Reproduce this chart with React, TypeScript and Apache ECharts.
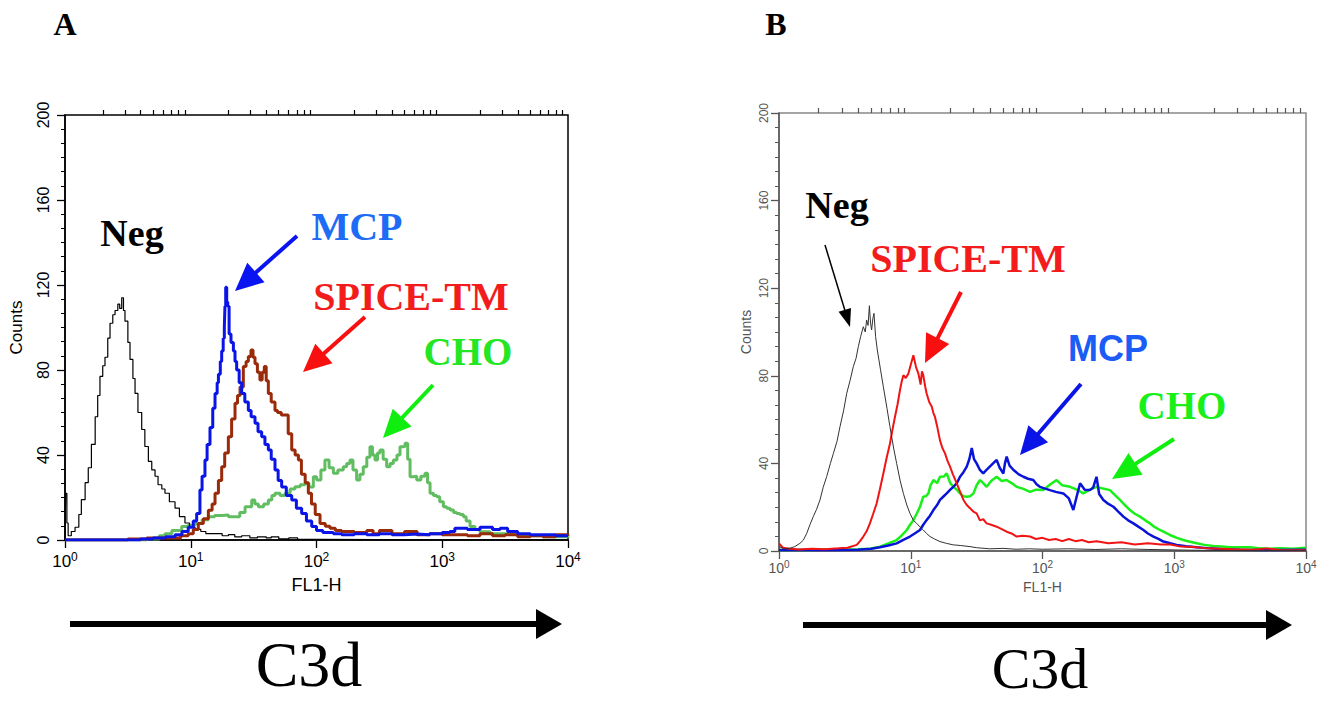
import React, { useEffect, useRef } from 'react';
import * as echarts from 'echarts';

// ---------- tick values ----------
const decadeTicks = [1, 10, 100, 1000, 10000];
const minorTicks = [
  2, 3, 4, 5, 6, 7, 8, 9,
  20, 30, 40, 50, 60, 70, 80, 90,
  200, 300, 400, 500, 600, 700, 800, 900,
  2000, 3000, 4000, 5000, 6000, 7000, 8000, 9000,
];
const countMax = 200;
const countStep = 40;

// ---------- data: [log10(FL1-H), Counts] ----------
// Panel A
const negA = [[0,0],[0.005,22],[0.015,8],[0.025,2],[0.05,4],[0.08,6],[0.11,12],[0.13,19],[0.16,27],[0.185,34],[0.21,45],[0.24,58],[0.26,68],[0.278,77],[0.3,82],[0.318,86],[0.34,95],[0.358,102],[0.38,106],[0.398,108],[0.42,111],[0.435,109],[0.451,114],[0.465,108],[0.477,103],[0.5,93],[0.517,85],[0.54,76],[0.557,69],[0.58,60],[0.61,52],[0.635,44],[0.663,37],[0.69,33],[0.716,30],[0.74,26],[0.77,24],[0.795,22],[0.83,18],[0.875,15],[0.91,11],[0.954,8],[0.99,6],[1.034,5],[1.08,4],[1.12,3],[1.19,3],[1.25,2],[1.3,2.5],[1.35,1.5],[1.405,2],[1.47,1],[1.53,1.5],[1.6,1],[1.64,1.5],[1.7,0.5],[1.78,1],[1.85,0.3],[2.0,0.2],[2.5,0],[3,0],[4,0]];
const mcpA = [[0,0],[0.4,0],[0.6,0.5],[0.7,1],[0.8,1.5],[0.875,2.5],[0.93,4],[0.98,6],[1.02,9],[1.047,12.5],[1.073,23.5],[1.09,30],[1.113,37.6],[1.13,45],[1.153,53],[1.175,62],[1.193,69],[1.21,74],[1.22,78],[1.235,84],[1.246,89],[1.258,95],[1.267,100],[1.272,110],[1.278,119],[1.286,112],[1.294,110],[1.305,97],[1.32,93],[1.339,89],[1.352,84],[1.365,80],[1.385,74],[1.405,69],[1.43,65],[1.458,61],[1.48,58],[1.511,55],[1.535,51],[1.564,48.6],[1.59,45],[1.617,42.4],[1.64,38],[1.67,33],[1.695,28],[1.723,25],[1.76,21],[1.803,18.8],[1.84,15],[1.882,12.5],[1.92,9],[1.962,6.3],[2.0,4.5],[2.05,3.5],[2.134,3],[2.2,2.5],[2.3,3],[2.4,2.5],[2.5,3],[2.6,2.5],[2.7,2.8],[2.8,2.5],[2.9,3],[3.0,3.5],[3.06,4],[3.1,5.5],[3.2,5],[3.3,6],[3.4,5],[3.46,5.5],[3.52,4],[3.6,3],[3.7,2.5],[3.8,2.5],[3.9,2],[4.0,2]];
const spiceA = [[0,0],[0.5,0.5],[0.65,1],[0.8,1],[0.92,2],[0.98,3],[1.02,5],[1.06,7.8],[1.1,10],[1.14,14],[1.17,17],[1.193,22],[1.22,28],[1.246,34.5],[1.27,41],[1.299,48.6],[1.325,57],[1.352,64.3],[1.372,68],[1.392,72],[1.418,81.6],[1.44,84],[1.458,86.3],[1.479,89.4],[1.495,86],[1.511,83],[1.53,79],[1.55,75.3],[1.568,79],[1.585,81.6],[1.6,75],[1.617,69],[1.64,65],[1.67,61],[1.69,60],[1.72,58.8],[1.75,58.8],[1.775,50],[1.803,42.4],[1.83,40],[1.856,37.6],[1.88,31],[1.91,27],[1.935,22],[1.96,17],[1.99,12],[2.028,7.8],[2.07,6.5],[2.107,5.5],[2.15,4.5],[2.2,4],[2.3,3.5],[2.4,4.5],[2.45,3],[2.5,4.5],[2.6,3],[2.7,4],[2.8,2.5],[2.9,3],[3.0,2.5],[3.1,2.5],[3.2,2],[3.3,3],[3.4,2],[3.5,2.5],[3.6,1.5],[3.7,2],[3.8,1.5],[3.9,2.5],[4.0,2]];
const choA = [[0,0],[0.5,0],[0.65,0.5],[0.75,2],[0.795,3],[0.85,4.5],[0.928,6.3],[0.98,7],[1.034,7.8],[1.09,9.5],[1.14,10.9],[1.19,11.5],[1.246,11.8],[1.3,11],[1.352,10.9],[1.39,13],[1.432,15.7],[1.485,18.8],[1.51,17],[1.538,15.7],[1.58,17],[1.617,18.8],[1.645,21],[1.67,22],[1.71,21],[1.75,22],[1.79,24],[1.829,25.1],[1.87,26],[1.909,26.7],[1.94,25],[1.975,29.8],[2.001,28.2],[2.035,33],[2.067,37.6],[2.1,34],[2.134,31.4],[2.17,33],[2.213,34.5],[2.24,36],[2.266,37.6],[2.29,33],[2.319,28.2],[2.345,31],[2.372,34.5],[2.4,39],[2.425,43.9],[2.445,40],[2.465,37.6],[2.485,41],[2.505,42.4],[2.53,38],[2.558,34.5],[2.585,36],[2.611,37.6],[2.64,40],[2.664,43.9],[2.684,44],[2.704,45.5],[2.725,38],[2.744,29.8],[2.77,30],[2.797,28.2],[2.83,30],[2.863,31.4],[2.883,27],[2.903,22],[2.93,21],[2.956,20.4],[2.98,18],[3.009,15.7],[3.035,15],[3.062,14.1],[3.09,13],[3.115,12.5],[3.14,12],[3.168,10.9],[3.19,9],[3.221,6.3],[3.26,5],[3.3,3.9],[3.38,3],[3.46,2.8],[3.6,2],[3.8,1.5],[4.0,1]];

// Panel B
const negB = [[0,2],[0.04,1],[0.084,1.3],[0.12,2],[0.159,3.5],[0.185,5],[0.21,8],[0.235,12],[0.26,15.7],[0.285,19],[0.311,23.3],[0.335,29],[0.362,34],[0.39,40],[0.413,44.6],[0.44,50],[0.463,56.8],[0.49,64],[0.514,72],[0.54,78],[0.564,84.2],[0.585,88],[0.602,93.3],[0.62,98],[0.64,102.4],[0.655,100],[0.665,105.5],[0.676,103],[0.686,112],[0.695,104],[0.703,100.9],[0.712,106],[0.721,108.5],[0.733,98],[0.746,91.8],[0.77,83],[0.792,75],[0.82,65],[0.842,56.8],[0.87,47],[0.893,40],[0.92,32],[0.944,26.3],[0.97,21],[0.994,17.2],[1.02,14],[1.045,12.6],[1.07,11],[1.095,9.6],[1.12,8],[1.146,6.6],[1.18,5.5],[1.222,4.3],[1.27,3.5],[1.323,2.8],[1.38,2.5],[1.45,2],[1.5,1.5],[1.6,1],[1.7,1.2],[1.8,0.8],[1.9,1],[2.0,0.8],[2.2,1],[2.4,0.7],[2.6,1],[2.8,0.7],[3.0,0.5],[3.2,0.3],[3.5,0.2],[4.0,0.2]];
const spiceB = [[0,3.5],[0.03,1.5],[0.08,1],[0.15,0.7],[0.25,1],[0.35,0.8],[0.45,1.2],[0.52,1.5],[0.59,2.8],[0.615,4.5],[0.64,6.6],[0.665,9],[0.69,12.6],[0.715,17],[0.741,21.7],[0.765,28],[0.792,35.4],[0.815,42],[0.842,49],[0.86,55],[0.88,61.2],[0.9,67],[0.918,73.4],[0.93,77],[0.944,80.3],[0.962,79],[0.982,81],[1.0,85],[1.02,89.4],[1.04,84],[1.058,81],[1.075,76],[1.085,82],[1.095,80.3],[1.11,75],[1.12,72],[1.14,68],[1.159,66],[1.172,63],[1.184,61.2],[1.2,57],[1.222,50.5],[1.24,47],[1.26,44.6],[1.28,41],[1.298,38.5],[1.32,35],[1.349,30.9],[1.375,27],[1.4,23.3],[1.425,21],[1.45,19.5],[1.475,18],[1.5,17.2],[1.525,14],[1.55,14.5],[1.576,12.6],[1.61,12],[1.652,11.1],[1.69,10],[1.728,8.8],[1.765,8],[1.804,6.6],[1.85,7],[1.905,6.6],[1.95,5.5],[2.0,6],[2.05,5],[2.1,5.5],[2.15,4.5],[2.2,5.5],[2.25,4.5],[2.3,5],[2.35,4],[2.41,4.5],[2.5,3.5],[2.6,4],[2.7,3],[2.8,3.5],[2.9,3],[2.97,3],[3.05,2],[3.15,1.8],[3.25,1.2],[3.35,1],[3.45,0.8],[3.6,0.6],[3.7,1.2],[3.8,0.5],[4.0,0.3]];
const choB = [[0,0.5],[0.2,0.5],[0.4,0.7],[0.6,0.8],[0.69,1],[0.767,2],[0.83,3.5],[0.893,5],[0.93,7],[0.97,9.6],[0.995,12],[1.02,14.1],[1.045,17],[1.07,20.2],[1.095,24.8],[1.115,25],[1.134,26.3],[1.15,30],[1.172,32.4],[1.2,31],[1.222,33.9],[1.25,34],[1.273,35.4],[1.3,31],[1.323,29.3],[1.35,28],[1.374,26.3],[1.4,25],[1.425,24.8],[1.45,25],[1.476,26.3],[1.5,30],[1.526,32.4],[1.55,31],[1.576,29.3],[1.61,32],[1.652,33.9],[1.69,32],[1.728,32.4],[1.765,31],[1.804,29.3],[1.85,28.5],[1.905,27],[1.95,28],[2.006,27.8],[2.05,30],[2.107,32.4],[2.15,30],[2.209,29.3],[2.26,28],[2.31,26.3],[2.36,28],[2.41,29.3],[2.46,28.5],[2.512,27.8],[2.55,25.5],[2.588,23.3],[2.625,21],[2.664,18.7],[2.7,17],[2.74,15.7],[2.78,14],[2.816,12.6],[2.85,11],[2.891,9.6],[2.93,8.5],[2.967,7.3],[3.02,6],[3.068,5],[3.12,4.2],[3.17,3.5],[3.23,2.8],[3.296,2.3],[3.36,2],[3.422,1.7],[3.5,1.7],[3.575,1.7],[3.65,1.2],[3.72,1],[3.8,1.2],[3.9,1],[4.0,1.5]];
const mcpB = [[0,0.5],[0.2,0.4],[0.4,0.5],[0.6,0.6],[0.7,1],[0.767,1.7],[0.83,2.5],[0.893,3.5],[0.94,5],[0.994,6.6],[1.03,8],[1.07,9.6],[1.095,12],[1.12,14.1],[1.145,16],[1.172,18.7],[1.2,21],[1.222,23.3],[1.25,25],[1.273,26.3],[1.3,28],[1.323,29.3],[1.35,31],[1.374,33.9],[1.4,36],[1.425,38.5],[1.445,42],[1.463,47],[1.48,42],[1.5,40],[1.525,37],[1.55,35.4],[1.575,37],[1.6,38.5],[1.625,40],[1.652,41.6],[1.675,38],[1.703,35.4],[1.715,40],[1.728,43.1],[1.75,39],[1.78,37],[1.82,35],[1.855,33.9],[1.89,33],[1.93,32.4],[1.955,30.5],[1.98,29.3],[2.02,28.5],[2.057,27.8],[2.1,27],[2.158,26.3],[2.2,24],[2.234,18.7],[2.26,25],[2.285,30.9],[2.32,28],[2.36,27.8],[2.385,29],[2.41,33.9],[2.43,26],[2.462,23.3],[2.5,21.5],[2.538,20.2],[2.575,18],[2.614,15.7],[2.65,14],[2.69,12.6],[2.73,11],[2.766,9.6],[2.8,8],[2.842,6.6],[2.88,5.5],[2.917,4.3],[2.97,3.5],[3.018,2.8],[3.09,2.2],[3.17,1.7],[3.27,1.2],[3.37,0.8],[3.5,0.6],[3.7,0.5],[4.0,0.6]];

const SERIF = '"Liberation Serif", "DejaVu Serif", serif';
const SANS = '"Liberation Sans", Arial, sans-serif';

const toXY = (pts: number[][]) => pts.map(([d, c]) => [Math.pow(10, d), c]);

function arrow(x1: number, y1: number, x2: number, y2: number, color: string, w: number, hl: number, hw: number) {
  const dx = x2 - x1, dy = y2 - y1;
  const L = Math.hypot(dx, dy);
  const ux = dx / L, uy = dy / L;
  const bx = x2 - ux * hl, by = y2 - uy * hl;
  const px = -uy, py = ux;
  return [
    { type: 'line', shape: { x1, y1, x2: bx + ux * 2, y2: by + uy * 2 }, style: { stroke: color, lineWidth: w } },
    {
      type: 'polygon',
      shape: { points: [[x2, y2], [bx + (px * hw) / 2, by + (py * hw) / 2], [bx - (px * hw) / 2, by - (py * hw) / 2]] },
      style: { fill: color },
    },
  ];
}

function label(text: string, x: number, y: number, color: string, size: number, family = SERIF, weight = 'bold', vAlign = 'middle') {
  return {
    type: 'text',
    x,
    y,
    style: { text, fill: color, font: `${weight} ${size}px ${family}`, align: 'center', verticalAlign: vAlign },
  };
}

function xAxes(gridIndex: number, color: string, labelSize: number, supSize: number, margin: number, nameGap: number, nameSize: number) {
  return [
    {
      type: 'log',
      gridIndex,
      min: 1,
      max: 10000,
      logBase: 10,
      name: 'FL1-H',
      nameLocation: 'middle',
      nameGap,
      nameTextStyle: { color, fontFamily: SANS, fontSize: nameSize },
      axisLine: { show: true, lineStyle: { color, width: 1.5 } },
      axisTick: { show: true, customValues: decadeTicks, length: 8, lineStyle: { color, width: 1.3 } },
      axisLabel: {
        show: true,
        customValues: decadeTicks,
        margin,
        color,
        formatter: (v: number) => `{b|10}{s|${Math.round(Math.log10(v))}}`,
        rich: {
          b: { fontSize: labelSize, fontFamily: SANS, color },
          s: { fontSize: supSize, fontFamily: SANS, color, padding: [0, 0, labelSize * 0.55, 0] },
        },
      },
      splitLine: { show: false },
    },
    {
      type: 'log',
      gridIndex,
      min: 1,
      max: 10000,
      logBase: 10,
      axisLine: { show: false },
      axisTick: { show: true, customValues: minorTicks, length: 5, lineStyle: { color, width: 1.2 } },
      axisLabel: { show: false },
      splitLine: { show: false },
    },
  ];
}

function yAxis(gridIndex: number, color: string, labelSize: number, margin: number, nameGap: number, nameSize: number) {
  return {
    type: 'value',
    gridIndex,
    min: 0,
    max: countMax,
    interval: countStep,
    name: 'Counts',
    nameLocation: 'middle',
    nameRotate: 90,
    nameGap,
    nameTextStyle: { color, fontFamily: SANS, fontSize: nameSize },
    axisLine: { show: true, lineStyle: { color, width: 1.5 } },
    axisTick: { show: true, length: 8, lineStyle: { color, width: 1.3 } },
    minorTick: { show: true, splitNumber: 6, length: 4, lineStyle: { color, width: 1 } },
    axisLabel: { show: true, rotate: 90, margin, color, fontFamily: SANS, fontSize: labelSize },
    splitLine: { show: false },
    minorSplitLine: { show: false },
  };
}

function line(data: number[][], xAxisIndex: number, yAxisIndex: number, color: string, width: number, z: number, step: any) {
  return {
    type: 'line',
    xAxisIndex,
    yAxisIndex,
    data: toXY(data),
    symbol: 'none',
    showSymbol: false,
    step,
    z,
    lineStyle: { color, width },
    emphasis: { disabled: true },
  };
}

export default function App() {
  const ref = useRef<HTMLDivElement>(null);
  useEffect(() => {
    if (!ref.current) return;
    const chart = echarts.init(ref.current, undefined, { renderer: 'svg' });
    const xa = [...xAxes(0, '#000', 17, 12, 11, 36, 18), ...xAxes(1, '#555', 14, 10, 8, 28, 14)];
    const option: any = {
      animation: false,
      backgroundColor: '#fff',
      grid: [
        { left: 65, top: 115, width: 503, height: 425, show: true, borderColor: '#000', borderWidth: 1.5, backgroundColor: 'transparent', containLabel: false, outerBoundsMode: 'none' },
        { left: 779, top: 113, width: 527, height: 438, show: true, borderColor: '#888', borderWidth: 1.5, backgroundColor: 'transparent', containLabel: false, outerBoundsMode: 'none' },
      ],
      xAxis: xa,
      yAxis: [yAxis(0, '#000', 16, 14, 40, 17), yAxis(1, '#555', 12, 9, 26, 14)],
      series: [
        line(choA, 0, 0, '#62bd62', 3, 2, 'end'),
        line(negA, 0, 0, '#000', 1.2, 3, 'end'),
        line(spiceA, 0, 0, '#992a0a', 3, 4, 'end'),
        line(mcpA, 0, 0, '#0a14e6', 3, 5, 'end'),
        line(choB, 2, 1, '#19f019', 2.5, 2, false),
        line(mcpB, 2, 1, '#0a14d8', 2.5, 3, false),
        line(spiceB, 2, 1, '#f01414', 2, 4, false),
        line(negB, 2, 1, '#333', 1, 5, false),
      ],
      graphic: [
        label('A', 65, 24, '#000', 32),
        label('B', 776, 24, '#000', 32),
        // panel A annotations
        label('Neg', 132, 233, '#000', 38),
        label('MCP', 357, 226, '#1e6cf5', 40),
        label('SPICE-TM', 411, 296, '#f31c1c', 40),
        label('CHO', 468, 351, '#25e625', 39),
        ...arrow(297, 236, 235, 291, '#0a14f0', 4, 28, 26),
        ...arrow(365, 317, 303, 372, '#f81010', 4, 28, 26),
        ...arrow(433, 385, 383, 438, '#10ee10', 4, 28, 26),
        // panel B annotations
        label('Neg', 837, 205, '#000', 38),
        label('SPICE-TM', 968, 258, '#f31c1c', 40),
        label('MCP', 1108, 348, '#1a5cf5', 36, SANS),
        label('CHO', 1182, 405, '#19f019', 39),
        ...arrow(825, 245, 850, 327, '#000', 1.5, 18, 13),
        ...arrow(961, 292, 925, 363, '#f81010', 4, 28, 26),
        ...arrow(1081, 384, 1020, 455, '#0a14e6', 4, 28, 26),
        ...arrow(1174, 439, 1112, 479, '#10ee10', 4, 28, 26),
        // big C3d arrows
        ...arrow(70, 624, 562, 624, '#000', 6, 26, 30),
        ...arrow(803, 625, 1292, 625, '#000', 6, 26, 30),
        label('C3d', 309, 664, '#000', 64, SERIF, 'normal'),
        label('C3d', 1040, 668, '#000', 58, SERIF, 'normal'),
      ],
    };
    chart.setOption(option);
    return () => chart.dispose();
  }, []);
  return <div ref={ref} style={{ position: 'fixed', left: 0, top: 0, width: 1331, height: 704, background: '#fff' }} />;
}
